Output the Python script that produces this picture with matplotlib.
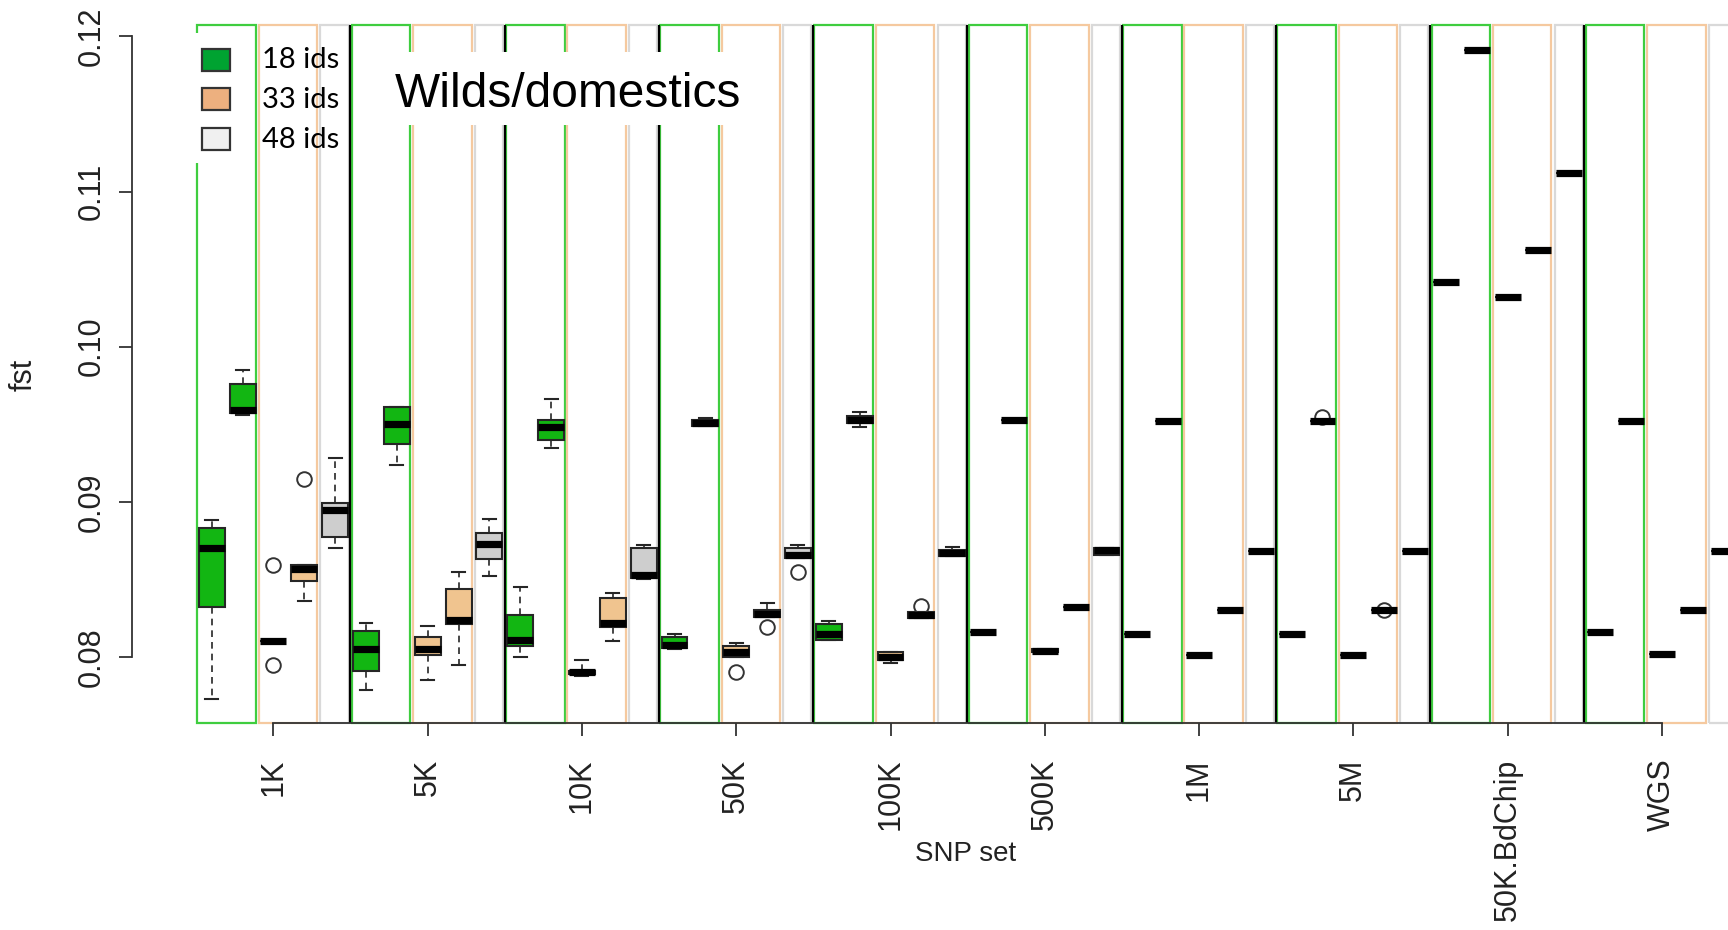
import matplotlib
matplotlib.use('Agg')
import matplotlib.pyplot as plt
import numpy as np
from matplotlib import font_manager
from matplotlib.patches import Rectangle


def pick_font(names):
    # first installed family of the list
    for n in names:
        try:
            font_manager.findfont(n, fallback_to_default=False)
            return n
        except ValueError:
            pass
    return 'DejaVu Sans'


SANS = pick_font(['Liberation Sans', 'Arial', 'DejaVu Sans'])
LEG = pick_font(['Lato', 'Open Sans', 'Liberation Sans'])

# SNP sets on the x axis
snp_sets = ['1K', '5K', '10K', '50K', '100K', '500K', '1M', '5M', '50K.BdChip', 'WGS']

# box stats per SNP set: (whisker low, Q1, median, Q3, whisker high)
ids18_a = [
    (0.0773, 0.0832, 0.0870, 0.0883, 0.0888),
    (0.0779, 0.0791, 0.0805, 0.0817, 0.0822),
    (0.0800, 0.0807, 0.0811, 0.0827, 0.0845),
    (0.0805, 0.0806, 0.0808, 0.0813, 0.0815),
    (0.0811, 0.0811, 0.0815, 0.0821, 0.0823),
    (0.0816, 0.0816, 0.0816, 0.0816, 0.0816),
    (0.0815, 0.0815, 0.0815, 0.0815, 0.0815),
    (0.0815, 0.0815, 0.0815, 0.0815, 0.0815),
    (0.1042, 0.1042, 0.1042, 0.1042, 0.1042),
    (0.0816, 0.0816, 0.0816, 0.0816, 0.0816),
]
ids18_b = [
    (0.0956, 0.0957, 0.0959, 0.0976, 0.0985),
    (0.0924, 0.0937, 0.0950, 0.0961, 0.0961),
    (0.0935, 0.0940, 0.0948, 0.0953, 0.0966),
    (0.0949, 0.0949, 0.0951, 0.0953, 0.0954),
    (0.0948, 0.0951, 0.0953, 0.0955, 0.0958),
    (0.0953, 0.0953, 0.0953, 0.0953, 0.0953),
    (0.0952, 0.0952, 0.0952, 0.0952, 0.0952),
    (0.0952, 0.0952, 0.0952, 0.0952, 0.0952),
    (0.1191, 0.1191, 0.1191, 0.1191, 0.1191),
    (0.0952, 0.0952, 0.0952, 0.0952, 0.0952),
]
ids33_a = [
    (0.0810, 0.0810, 0.0810, 0.0810, 0.0810),
    (0.0785, 0.0801, 0.0805, 0.0813, 0.0820),
    (0.0788, 0.0789, 0.0790, 0.0791, 0.0798),
    (0.0800, 0.0800, 0.0803, 0.0807, 0.0809),
    (0.0796, 0.0798, 0.0800, 0.0803, 0.0803),
    (0.0803, 0.0803, 0.0804, 0.0805, 0.0805),
    (0.0801, 0.0801, 0.0801, 0.0801, 0.0801),
    (0.0801, 0.0801, 0.0801, 0.0801, 0.0801),
    (0.1032, 0.1032, 0.1032, 0.1032, 0.1032),
    (0.0802, 0.0802, 0.0802, 0.0802, 0.0802),
]
ids33_b = [
    (0.0836, 0.0849, 0.0857, 0.0859, 0.0859),
    (0.0795, 0.0821, 0.0824, 0.0844, 0.0855),
    (0.0810, 0.0819, 0.0822, 0.0838, 0.0841),
    (0.0826, 0.0826, 0.0828, 0.0830, 0.0835),
    (0.0825, 0.0825, 0.0827, 0.0829, 0.0829),
    (0.0832, 0.0832, 0.0832, 0.0832, 0.0832),
    (0.0830, 0.0830, 0.0830, 0.0830, 0.0830),
    (0.0830, 0.0830, 0.0830, 0.0830, 0.0830),
    (0.1062, 0.1062, 0.1062, 0.1062, 0.1062),
    (0.0830, 0.0830, 0.0830, 0.0830, 0.0830),
]
ids48 = [
    (0.0870, 0.0877, 0.0895, 0.0899, 0.0928),
    (0.0852, 0.0863, 0.0873, 0.0880, 0.0889),
    (0.0850, 0.0851, 0.0853, 0.0870, 0.0872),
    (0.0864, 0.0864, 0.0866, 0.0870, 0.0872),
    (0.0865, 0.0865, 0.0867, 0.0869, 0.0871),
    (0.0866, 0.0866, 0.0869, 0.0870, 0.0870),
    (0.0868, 0.0868, 0.0868, 0.0868, 0.0868),
    (0.0868, 0.0868, 0.0868, 0.0868, 0.0868),
    (0.1112, 0.1112, 0.1112, 0.1112, 0.1112),
    (0.0868, 0.0868, 0.0868, 0.0868, 0.0868),
]

# outliers per SNP set
out18_a = [[], [], [], [], [], [], [], [], [], []]
out18_b = [[], [], [], [], [], [], [], [0.09548], [], []]
out33_a = [[0.0859, 0.0795], [], [], [0.0790], [], [], [], [], [], []]
out33_b = [[0.0915], [], [], [0.0819], [0.0833], [], [], [0.0830], [], []]
out48 = [[], [], [], [0.0855], [], [], [], [], [], []]

legend_labels = ['18 ids', '33 ids', '48 ids']
title = 'Wilds/domestics'

# colours
BOX_FILL = {'g': '#12b612', 'o': '#f0c48f', 'k': '#cecece'}
PANEL_EDGE = {'g': '#3fcd3f', 'o': '#f5c99f', 'k': '#d9d9d9'}
LEG_FILL = ['#00a331', '#edb07f', '#f0f0f0']
DARK = '#262626'

W, H = 1728, 930
fig = plt.figure(figsize=(W / 100, H / 100), dpi=100)

# axes placed in pixels: x 0.5 -> 196 px, x 10.5 -> 1739 px (cut by the figure)
x0, x1 = 196.3, 1739.0
ytop, ybot = 24.7, 723.0
ax = fig.add_axes([x0 / W, (H - ybot) / H, (x1 - x0) / W, (ybot - ytop) / H])
ax.set_xlim(0.5, 10.5)
ax.set_ylim(0.075742, 0.120754)

n = len(snp_sets)
pos = np.arange(1, n + 1)

# background panels for each id group
panels = [('g', -0.493, -0.113), ('o', -0.095, 0.284), ('k', 0.305, 0.487)]
for p in pos:
    for key, a, b in panels:
        ax.add_patch(Rectangle((p + a, 0), b - a, 1, transform=ax.get_xaxis_transform(),
                               fill=False, edgecolor=PANEL_EDGE[key], linewidth=1.6,
                               clip_on=False, zorder=1))
for p in pos[:-1]:
    ax.axvline(p + 0.498, color='black', linewidth=1.6, zorder=1.5)


def stats(rows, outl):
    res = []
    for (lo, q1, med, q3, hi), fl in zip(rows, outl):
        res.append(dict(whislo=lo, q1=q1, med=med, q3=q3, whishi=hi, fliers=fl))
    return res


series = [
    (ids18_a, out18_a, -0.4, 'g'),
    (ids18_b, out18_b, -0.2, 'g'),
    (ids33_a, out33_a, 0.0, 'o'),
    (ids33_b, out33_b, 0.2, 'o'),
    (ids48, out48, 0.4, 'k'),
]
bw = 0.168
for rows, outl, off, key in series:
    ax.bxp(stats(rows, outl), positions=pos + off, widths=bw, capwidths=bw / 2,
           patch_artist=True, manage_ticks=False, zorder=3,
           boxprops=dict(facecolor=BOX_FILL[key], edgecolor=DARK, linewidth=1.5),
           medianprops=dict(color='black', linewidth=5.2, solid_capstyle='butt'),
           whiskerprops=dict(color=DARK, linewidth=1.2, linestyle=(0, (4, 3))),
           capprops=dict(color=DARK, linewidth=1.5),
           flierprops=dict(marker='o', markerfacecolor='none', markeredgecolor='#333333',
                           markersize=10.5, markeredgewidth=1.4))

# axes in R style
for s in ['top', 'right']:
    ax.spines[s].set_visible(False)
ax.spines['left'].set_position(('outward', 46))
ax.spines['left'].set_bounds(0.08, 0.12)
ax.spines['bottom'].set_bounds(1, n)
for s in ['left', 'bottom']:
    ax.spines[s].set_linewidth(1.3)
    ax.spines[s].set_color('#333333')
    ax.spines[s].set_zorder(4)

ax.set_yticks([0.08, 0.09, 0.10, 0.11, 0.12])
ax.set_yticklabels(['0.08', '0.09', '0.10', '0.11', '0.12'], rotation=90, va='center',
                   fontsize=22, family=SANS, color='#222222')
ax.set_xticks(pos)
ax.set_xticklabels(snp_sets, rotation=90, ha='center', va='top', fontsize=22,
                   family=SANS, color='#222222')
ax.tick_params(axis='both', direction='out', length=9.5, width=1.3, color='#333333')
ax.tick_params(axis='x', pad=16)
ax.tick_params(axis='y', pad=9)

fig.text(966 / W, 1 - 854 / H, 'SNP set', ha='center', va='center', fontsize=20,
         family=SANS, color='#222222')
fig.text(24 / W, 1 - 375 / H, 'fst', ha='center', va='center', rotation=90,
         fontsize=22, family=SANS, color='#222222')

# legend: white patch, swatches and labels
fig.add_artist(Rectangle((188 / W, 1 - 163 / H), 60 / W, 130 / H, transform=fig.transFigure,
                         facecolor='white', edgecolor='none', zorder=5))
for i, (lab, col) in enumerate(zip(legend_labels, LEG_FILL)):
    yc = [60.5, 99.5, 139.5][i]
    fig.add_artist(Rectangle((202 / W, 1 - (yc + 11) / H), 28 / W, 22 / H,
                             transform=fig.transFigure, facecolor=col,
                             edgecolor='#333333', linewidth=1.6, zorder=6))
    fig.text(262 / W, 1 - yc / H, lab, ha='left', va='center', fontsize=21,
             family=LEG, color='black', zorder=7)

# title box
fig.add_artist(Rectangle((385 / W, 1 - 125 / H), 370 / W, 73 / H, transform=fig.transFigure,
                         facecolor='white', edgecolor='none', zorder=5))
fig.text(568 / W, 1 - 107 / H, title, ha='center', va='baseline', fontsize=34.5,
         family=SANS, color='black', zorder=7)

fig.savefig('out.png', dpi=100)
